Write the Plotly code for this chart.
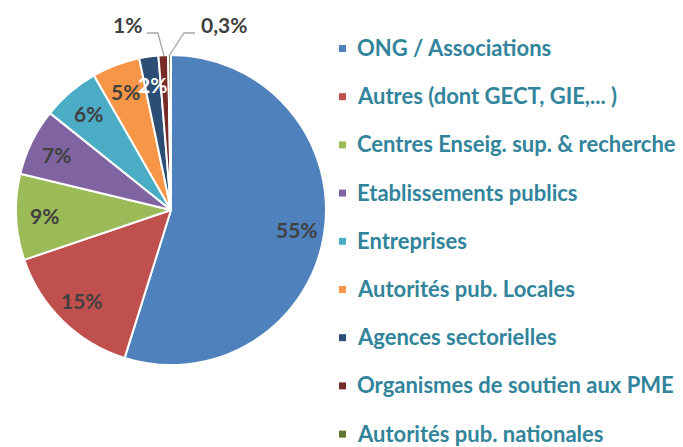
import math
import plotly.graph_objects as go

labels = ["ONG / Associations", "Autres (dont GECT, GIE,... )", "Centres Enseig. sup. & recherche",
          "Etablissements publics", "Entreprises", "Autorités pub. Locales",
          "Agences sectorielles", "Organismes de soutien aux PME", "Autorités pub. nationales"]
values = [55, 15, 9, 7, 6, 5, 2, 1, 0.3]
text_labels = ["55%", "15%", "9%", "7%", "6%", "5%", "2%", "1%", "0,3%"]
colors = ["#4F81BD", "#C0504D", "#9BBB59", "#8064A2", "#4BACC6", "#F79646", "#2C4D75", "#772C2A", "#5F7530"]

# page has an 8px body margin: figure is sized to fit the window
OFF = 8
W, H = 683 - OFF, 447 - OFF
FONT = "Lato"
LABEL_SIZE = 21
LEGEND_SIZE = 22


def px(x):
    return (x - OFF) / W


def py(y):
    return 1 - (y - OFF) / H


# pie geometry in window pixels
CX, CY, R = 171, 210, 155

fig = go.Figure(go.Pie(
    labels=labels, values=values, textinfo="none", sort=False,
    direction="clockwise", rotation=0,
    marker=dict(colors=colors, line=dict(color="white", width=2)),
    domain=dict(x=[px(CX - R), px(CX + R)], y=[py(CY + R), py(CY - R)]),
    showlegend=False, hoverinfo="label+percent",
))

annotations = []
shapes = []

# inside data labels placed along each slice's bisector
total = sum(values)
cum = 0.0
text_colors = ["#404040"] * 6 + ["#FFFFFF"] + ["#404040"] * 2
for i, v in enumerate(values):
    mid = (cum + v / 2) / total * 2 * math.pi
    cum += v
    if i >= 7:
        continue
    rr = 0.82 * R
    x = CX + rr * math.sin(mid)
    y = CY - rr * math.cos(mid)
    annotations.append(dict(x=px(x), y=py(y), xref="paper", yref="paper",
                            text="<b>" + text_labels[i] + "</b>", showarrow=False,
                            xanchor="center", yanchor="middle",
                            font=dict(family=FONT, size=LABEL_SIZE, color=text_colors[i])))

# outside labels for the two smallest slices
annotations.append(dict(x=px(144), y=py(25), xref="paper", yref="paper", text="<b>" + text_labels[7] + "</b>",
                        showarrow=False, xanchor="right", yanchor="middle",
                        font=dict(family=FONT, size=LABEL_SIZE, color="#404040")))
annotations.append(dict(x=px(199), y=py(25), xref="paper", yref="paper", text="<b>" + text_labels[8] + "</b>",
                        showarrow=False, xanchor="left", yanchor="middle",
                        font=dict(family=FONT, size=LABEL_SIZE, color="#404040")))
shapes.append(dict(type="path", xref="paper", yref="paper",
                   path=f"M {px(147)} {py(33)} L {px(158)} {py(33)} L {px(164)} {py(56)}",
                   line=dict(color="#A6A6A6", width=1.3)))
shapes.append(dict(type="path", xref="paper", yref="paper",
                   path=f"M {px(195)} {py(33)} L {px(184)} {py(33)} L {px(169)} {py(56)}",
                   line=dict(color="#A6A6A6", width=1.3)))

# legend drawn manually
leg_y0, leg_dy = 47.5, 48.2
for i, (lab, col) in enumerate(zip(labels, colors)):
    yc = leg_y0 + i * leg_dy
    shapes.append(dict(type="rect", xref="paper", yref="paper",
                       x0=px(339), x1=px(346), y0=py(yc + 4.5), y1=py(yc - 2.5),
                       fillcolor=col, line=dict(width=0)))
    annotations.append(dict(x=px(355), y=py(yc), xref="paper", yref="paper", text="<b>" + lab + "</b>",
                            showarrow=False, xanchor="left", yanchor="middle",
                            font=dict(family=FONT, size=LEGEND_SIZE, color="#31849B")))

fig.update_layout(
    width=W, height=H, margin=dict(l=0, r=0, t=0, b=0),
    paper_bgcolor="white", plot_bgcolor="white",
    annotations=annotations, shapes=shapes,
)
fig.write_html("out.html")
